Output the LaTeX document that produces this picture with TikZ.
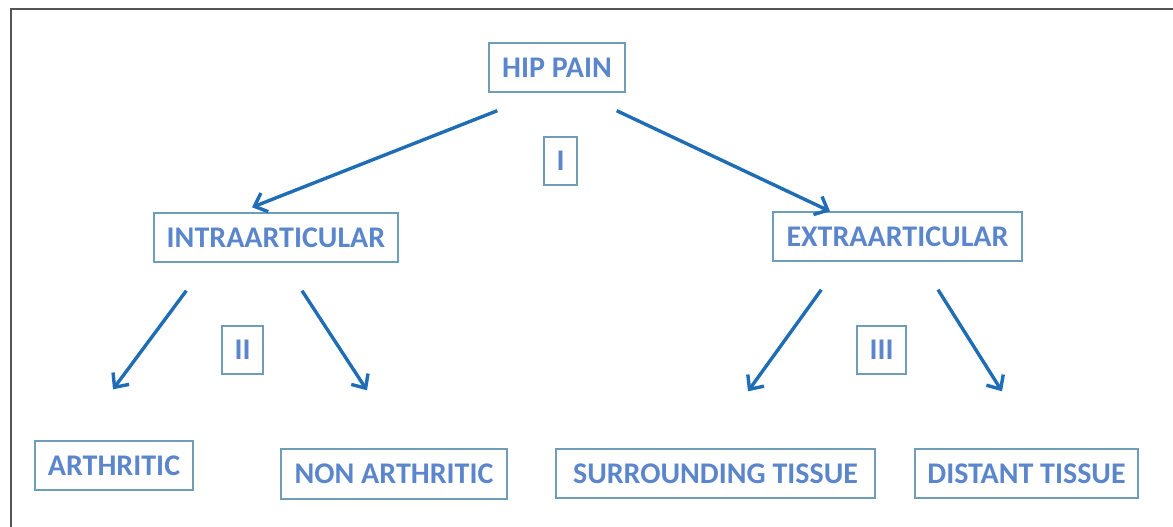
\documentclass[tikz,border=0pt]{standalone}
\usepackage{fontspec}
\setmainfont{Carlito}
\usetikzlibrary{arrows.meta,calc}
\definecolor{txtblue}{HTML}{5B86CC}
\definecolor{boxline}{HTML}{6E9DB8}
\definecolor{arrblue}{HTML}{1F6DB4}
\definecolor{frame}{HTML}{555555}
\tikzset{
  box/.style={draw=boxline,line width=1.4pt,text=txtblue,font=\fontsize{30}{34}\selectfont\bfseries,inner sep=0pt,anchor=center},
  arr/.style={draw=arrblue,line width=3.4pt,-{Straight Barb[length=11pt,width=20pt,line width=3.4pt]}}
}
\begin{document}
\begin{tikzpicture}[x=1pt,y=-1pt]
\useasboundingbox (0,0) rectangle (1173,527);
\draw[frame,line width=2pt] (10.5,527) -- (10.5,9.5) -- (1173,9.5);
\node[box,minimum width=136pt,minimum height=49pt] (hip) at (557,67.5) {HIP PAIN};
\node[box,minimum width=33pt,minimum height=48pt] (r1) at (560.5,161) {I};
\node[box,minimum width=244pt,minimum height=49pt] (intra) at (276,237.5) {INTRAARTICULAR};
\node[box,minimum width=249pt,minimum height=49pt] (extra) at (897.5,236.5) {EXTRAARTICULAR};
\node[box,minimum width=41pt,minimum height=48pt] (r2) at (242.5,350) {II};
\node[box,minimum width=49pt,minimum height=48pt] (r3) at (881.5,350) {III};
\node[box,minimum width=158pt,minimum height=49pt] (arth) at (114,465.5) {ARTHRITIC};
\node[box,minimum width=226pt,minimum height=50pt] (non) at (394,474) {NON ARTHRITIC};
\node[box,minimum width=319pt,minimum height=49pt] (surr) at (715.5,473.5) {SURROUNDING TISSUE};
\node[box,minimum width=223pt,minimum height=49pt] (dist) at (1026.5,473.5) {DISTANT TISSUE};
\draw[arr] ([shift={(9,18)}]hip.south west) -- ([shift={(-24,-5)}]intra.north);
\draw[arr] ([shift={(-9,18)}]hip.south east) -- ([shift={(-67.5,0)}]extra.north);
\draw[arr] ([shift={(33,28)}]intra.south west) -- ([shift={(-1,-51)}]arth.north);
\draw[arr] ([shift={(26,28)}]intra.south) -- ([shift={(-27,-58)}]non.north);
\draw[arr] ([shift={(49,28)}]extra.south west) -- ([shift={(32.5,-57)}]surr.north);
\draw[arr] ([shift={(40.5,28)}]extra.south) -- ([shift={(-24.5,-57)}]dist.north);
\end{tikzpicture}
\end{document}
